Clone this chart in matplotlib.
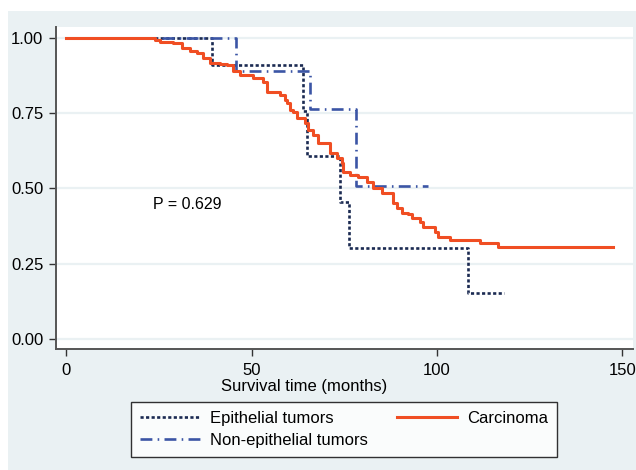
import matplotlib
matplotlib.use("Agg")
import matplotlib.pyplot as plt
from matplotlib.patches import Rectangle

plt.rcParams['font.family'] = ['Liberation Sans', 'DejaVu Sans']

# ---- data ----
epi_t = [0, 39.4, 63.8, 64.9, 73.9, 76.2, 108.3, 118.2]
epi_s = [1.0, 0.909, 0.758, 0.606, 0.455, 0.303, 0.152, 0.152]

nonepi_t = [0, 45.8, 65.8, 78.1, 97.5]
nonepi_s = [1.0, 0.889, 0.762, 0.508, 0.508]

carc_t = [0, 22.5, 23.9, 25.3, 28.8, 31.2, 33.4, 35.3, 36.9, 38.8, 41.5, 43.4, 45.0,
          46.9, 50.4, 53.1, 54.2, 57.7, 59.0, 59.6, 60.4, 61.2, 62.2, 64.4,
          65.2, 66.6, 67.9, 71.1, 73.0, 74.4, 74.6, 76.5, 78.7, 81.1, 82.8,
          85.2, 88.2, 89.2, 90.6, 92.2, 93.3, 95.4, 96.2, 99.5, 100.3, 103.5,
          111.6, 116.4, 147.6]
carc_s = [1.0, 0.998, 0.993, 0.987, 0.981, 0.967, 0.957, 0.948, 0.933, 0.917, 0.913,
          0.908, 0.890, 0.876, 0.865, 0.854, 0.821, 0.810, 0.793, 0.783, 0.760,
          0.754, 0.733, 0.717, 0.694, 0.677, 0.652, 0.616, 0.601, 0.584, 0.555,
          0.544, 0.537, 0.522, 0.500, 0.484, 0.450, 0.434, 0.419, 0.414, 0.403,
          0.389, 0.373, 0.356, 0.340, 0.329, 0.320, 0.306, 0.306]

yticks = [0.0, 0.25, 0.5, 0.75, 1.0]
ytick_labels = ["0.00", "0.25", "0.50", "0.75", "1.00"]
xticks = [0, 50, 100, 150]
series_names = ["Epithelial tumors", "Non-epithelial tumors", "Carcinoma"]
p_text = "P = 0.629"
xlabel = "Survival time (months)"

W, H = 636, 470
fig = plt.figure(figsize=(W / 100, H / 100), dpi=100)
fig.patch.set_facecolor('white')
bgc = '#EAF1F3'
fig.patches.append(Rectangle((8 / W, 0), 1 - 8 / W, 1 - 11 / H,
                             transform=fig.transFigure, facecolor=bgc,
                             edgecolor='none', zorder=-10))

def fx(px):
    return px / W

def fy(py):
    return 1 - py / H

FS = 12

ax = fig.add_axes([fx(56), fy(349), fx(633) - fx(56), fy(27) - fy(349)])
ax.set_facecolor('white')
ax.set_xlim(-2.78, 152.9)
ax.set_ylim(-0.0332, 1.0355)

for y in yticks:
    ax.axhline(y, color=bgc, lw=1.6, zorder=0)

navy = '#1B2A52'
blue = '#3B55A5'
orange = '#F04E23'

l1, = ax.step(epi_t, epi_s, where='post', color=navy, lw=1.9,
              linestyle=(0, (1.2, 0.9)), zorder=3)
l2, = ax.step(nonepi_t, nonepi_s, where='post', color=blue, lw=1.9,
              linestyle=(0, (4.5, 2.0, 0.6, 2.0)), zorder=3)
l3, = ax.step(carc_t, carc_s, where='post', color=orange, lw=2.2, zorder=4)

for s in ['top', 'right']:
    ax.spines[s].set_visible(False)
for s in ['left', 'bottom']:
    ax.spines[s].set_color('#555555')
    ax.spines[s].set_linewidth(1.4)

ax.set_yticks(yticks)
ax.set_yticklabels(ytick_labels)
ax.set_xticks(xticks)
ax.set_xticklabels([str(x) for x in xticks])
ax.tick_params(axis='both', direction='out', length=5, width=1.0,
               color='#333333', labelsize=FS, labelcolor='black')
ax.tick_params(axis='y', pad=4)
ax.tick_params(axis='x', pad=5)

ax.text(23.3, 0.445, p_text, fontsize=11.5, ha='left', va='center')

fig.text(fx(304), fy(387), xlabel, fontsize=FS, ha='center', va='center')

leg = fig.legend([l1, l2, l3], series_names, ncol=2,
                 loc='upper left',
                 bbox_to_anchor=(fx(131), fy(402), fx(557) - fx(131), 0.001),
                 mode='expand', frameon=True, fancybox=False,
                 fontsize=FS, handlelength=3.6, handletextpad=0.6,
                 borderpad=0.55, labelspacing=0.45, borderaxespad=0)
leg.get_frame().set_edgecolor('black')
leg.get_frame().set_linewidth(1.0)
leg.get_frame().set_facecolor('white')

fig.savefig('out.png', dpi=100, facecolor=fig.get_facecolor())
